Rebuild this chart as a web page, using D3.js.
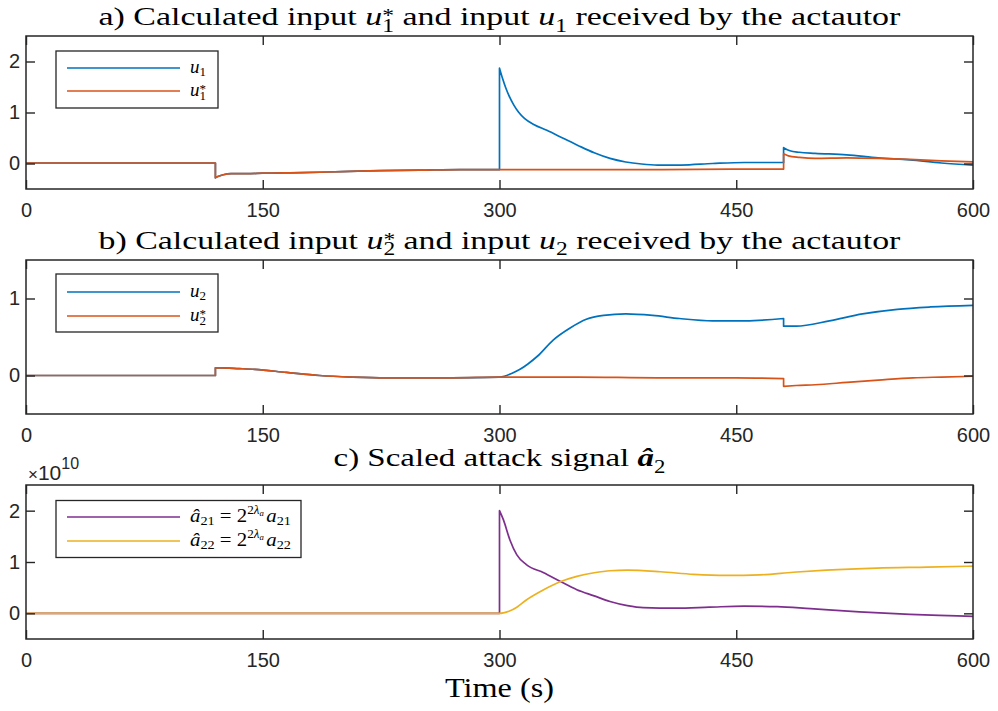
<!DOCTYPE html>
<html><head><meta charset="utf-8">
<script src="https://cdn.jsdelivr.net/npm/d3@7"></script>
<style>body{margin:0;background:#fff;} svg{display:block}</style>
</head><body>
<svg id="c" width="998" height="711"></svg>
<script>
// ---------------- data ----------------
const xTicks = [0, 150, 300, 450, 600];
const yTicksA = [0, 1, 2];
const yTicksB = [0, 1];
const yTicksC = [0, 1e10, 2e10];

// panel a: u1 (received) and u1* (calculated)
const u1T = [0, 60, 120, 120, 122, 125, 130, 140, 150, 175, 200, 225, 250, 275, 300, 300, 302, 304, 306, 309, 312, 316, 322, 330, 340, 350, 360, 370, 380, 390, 400, 415, 435, 455, 480, 480, 484, 490, 500, 520, 540, 560, 580, 600];
const u1V = [0.01, 0.01, 0.01, -0.28, -0.25, -0.22, -0.20, -0.20, -0.19, -0.18, -0.16, -0.14, -0.13, -0.12, -0.12, 1.87, 1.66, 1.48, 1.33, 1.15, 1.01, 0.88, 0.76, 0.65, 0.50, 0.35, 0.21, 0.10, 0.03, -0.01, -0.03, -0.03, 0.0, 0.02, 0.02, 0.31, 0.25, 0.22, 0.20, 0.17, 0.11, 0.07, 0.01, -0.03];
const u1sT = [0, 60, 120, 120, 122, 125, 130, 140, 150, 175, 200, 225, 250, 275, 300, 350, 400, 450, 480, 480, 483, 490, 500, 520, 540, 560, 580, 600];
const u1sV = [0.01, 0.01, 0.01, -0.28, -0.25, -0.22, -0.20, -0.20, -0.19, -0.18, -0.16, -0.14, -0.13, -0.12, -0.12, -0.12, -0.12, -0.11, -0.11, 0.19, 0.15, 0.12, 0.10, 0.11, 0.10, 0.08, 0.05, 0.03];

// panel b: u2 and u2*
const u2T = [0, 60, 120, 120, 123, 135, 145, 165, 186, 207, 228, 270, 300, 303, 308, 313, 318, 324, 334, 345, 355, 366, 380, 397, 414, 435, 456, 480, 480, 488, 509, 530, 552, 573, 600];
const u2V = [0, 0, 0, 0.10, 0.10, 0.09, 0.08, 0.04, 0.0, -0.02, -0.03, -0.03, -0.02, -0.01, 0.03, 0.08, 0.15, 0.25, 0.46, 0.62, 0.73, 0.78, 0.80, 0.78, 0.74, 0.71, 0.71, 0.74, 0.64, 0.64, 0.71, 0.80, 0.86, 0.89, 0.91];
const u2sT = [0, 60, 120, 120, 123, 135, 145, 165, 186, 207, 228, 270, 300, 350, 400, 450, 480, 480, 488, 500, 520, 540, 562, 580, 600];
const u2sV = [0, 0, 0, 0.10, 0.10, 0.09, 0.08, 0.04, 0.0, -0.02, -0.03, -0.03, -0.02, -0.02, -0.03, -0.03, -0.04, -0.14, -0.13, -0.12, -0.09, -0.06, -0.03, -0.02, -0.01];

// panel c: scaled attack signals
const a21T = [0, 150, 300, 300, 302.5, 306.6, 311, 317, 328, 338, 349, 360, 370, 381, 391, 412, 433, 455, 476, 497, 528, 560, 590, 600];
const a21V = [0, 0, 0, 2.0e10, 1.82e10, 1.43e10, 1.14e10, 0.95e10, 0.79e10, 0.63e10, 0.46e10, 0.34e10, 0.23e10, 0.15e10, 0.11e10, 0.10e10, 0.12e10, 0.14e10, 0.13e10, 0.09e10, 0.03e10, -0.02e10, -0.05e10, -0.06e10];
const a22T = [0, 150, 300, 302.5, 306, 311, 317, 328, 338, 349, 360, 370, 381, 402, 423, 444, 465, 486, 507, 539, 571, 600];
const a22V = [0, 0, 0, 0.01e10, 0.04e10, 0.12e10, 0.26e10, 0.46e10, 0.61e10, 0.72e10, 0.79e10, 0.83e10, 0.84e10, 0.81e10, 0.76e10, 0.74e10, 0.75e10, 0.80e10, 0.84e10, 0.88e10, 0.90e10, 0.92e10];

// ---------------- drawing ----------------
const SERIF = "'Liberation Serif', 'DejaVu Serif', serif";
const SANS = "'Liberation Sans', Arial, Helvetica, sans-serif";
const AX = '#262626';
const C_BLUE = '#0072BD', C_ORANGE = '#D95319', C_YELLOW = '#EDB120', C_PURPLE = '#7E2F8E';

const svg = d3.select('#c');
svg.append('rect').attr('width', 998).attr('height', 711).attr('fill', '#fff');

// one <text> per formula; each piece is a tspan placed explicitly
function mathText(parent, pieces, o) {
  const g = parent.append('g');
  const text = g.append('text').attr('fill', o.fill || '#000').attr('font-family', o.font || SERIF);
  let cx = 0, prevStart = 0;
  pieces.forEach(p => {
    const sx = p.stack ? prevStart : cx;
    const t = text.append('tspan')
      .attr('x', sx).attr('y', p.dy || 0)
      .attr('font-family', p.font || o.font || SERIF)
      .attr('font-size', p.size)
      .attr('font-style', p.italic ? 'italic' : 'normal')
      .attr('font-weight', p.bold ? 'bold' : 'normal')
      .text(p.s.replace(/ /g, '\u00A0'));
    const w = t.node().getComputedTextLength();
    if (p.stack) { cx = Math.max(cx, sx + w); }
    else { prevStart = sx; cx = sx + w; }
  });
  const W = cx;
  const k = o.width ? o.width / W : 1;
  const x0 = o.anchor === 'middle' ? o.x - W * k / 2 : o.x;
  g.attr('transform', `translate(${x0},${o.y}) scale(${k},1)`);
  return g;
}

function seriesPath(x, y, T, V) {
  const segs = []; let cur = [];
  T.forEach((t, i) => {
    if (i > 0 && t === T[i - 1]) { segs.push(cur); cur = []; }
    cur.push([t, V[i]]);
  });
  segs.push(cur);
  const line = d3.line().x(d => x(d[0])).y(d => y(d[1])).curve(d3.curveMonotoneX);
  return segs.map((s, i) => { const p = line(s); return i === 0 ? p : 'L' + p.slice(1); }).join('');
}

const X = d3.scaleLinear().domain([0, 600]).range([26, 973]);

const TS = 26, SS = 18;
const panels = [
  {
    top: 36, bottom: 189, ydom: [-0.5, 2.5], yticks: yTicksA, yfmt: d => d,
    series: [{ T: u1T, V: u1V, c: C_BLUE }, { T: u1sT, V: u1sV, c: C_ORANGE }],
    title: [{ s: 'a) Calculated input ', size: TS }, { s: 'u', size: TS, italic: true },
            { s: '*', size: SS, dy: -3 }, { s: '1', size: SS, dy: 6.5, stack: true },
            { s: ' and input ', size: TS }, { s: 'u', size: TS, italic: true }, { s: '1', size: SS, dy: 6.5 },
            { s: ' received by the actautor', size: TS }],
    titleY: 25, titleW: 802,
    legend: { x: 56, y: 51, w: 162, h: 57, rows: [68, 91], items: [
      { c: C_BLUE, t: [{ s: 'u', size: 19, italic: true }, { s: '1', size: 13, dy: 3.5 }] },
      { c: C_ORANGE, t: [{ s: 'u', size: 19, italic: true }, { s: '*', size: 13, dy: -3 }, { s: '1', size: 13, dy: 4.5, stack: true }] }
    ] }
  },
  {
    top: 260, bottom: 414, ydom: [-0.5, 1.5], yticks: yTicksB, yfmt: d => d,
    series: [{ T: u2T, V: u2V, c: C_BLUE }, { T: u2sT, V: u2sV, c: C_ORANGE }],
    title: [{ s: 'b) Calculated input ', size: TS }, { s: 'u', size: TS, italic: true },
            { s: '*', size: SS, dy: -3 }, { s: '2', size: SS, dy: 6.5, stack: true },
            { s: ' and input ', size: TS }, { s: 'u', size: TS, italic: true }, { s: '2', size: SS, dy: 6.5 },
            { s: ' received by the actautor', size: TS }],
    titleY: 248.5, titleW: 802,
    legend: { x: 56, y: 274, w: 162, h: 58, rows: [292, 316], items: [
      { c: C_BLUE, t: [{ s: 'u', size: 19, italic: true }, { s: '2', size: 13, dy: 3.5 }] },
      { c: C_ORANGE, t: [{ s: 'u', size: 19, italic: true }, { s: '*', size: 13, dy: -3 }, { s: '2', size: 13, dy: 4.5, stack: true }] }
    ] }
  },
  {
    top: 485, bottom: 639, ydom: [-0.5e10, 2.5e10], yticks: yTicksC, yfmt: d => d / 1e10,
    series: [{ T: a21T, V: a21V, c: C_PURPLE }, { T: a22T, V: a22V, c: C_YELLOW }],
    title: [{ s: 'c) Scaled attack signal ', size: TS }, { s: '\u00E2', size: TS, italic: true, bold: true },
            { s: '2', size: SS, dy: 6.5 }],
    titleY: 466, titleW: 332,
    legend: { x: 56, y: 500.5, w: 245, h: 57, rows: [517, 541], items: [
      { c: C_PURPLE, w: 101, t: [{ s: '\u00E2', size: 19, italic: true }, { s: '21', size: 13, dy: 3.5 }, { s: ' = 2', size: 19 },
        { s: '2', size: 12, dy: -8 }, { s: '\u03BB', size: 12, italic: true, dy: -8 }, { s: 'a', size: 8, italic: true, dy: -5.5 },
        { s: ' ', size: 9 }, { s: 'a', size: 19, italic: true }, { s: '21', size: 13, dy: 3.5 }] },
      { c: C_YELLOW, w: 101, t: [{ s: '\u00E2', size: 19, italic: true }, { s: '22', size: 13, dy: 3.5 }, { s: ' = 2', size: 19 },
        { s: '2', size: 12, dy: -8 }, { s: '\u03BB', size: 12, italic: true, dy: -8 }, { s: 'a', size: 8, italic: true, dy: -5.5 },
        { s: ' ', size: 9 }, { s: 'a', size: 19, italic: true }, { s: '22', size: 13, dy: 3.5 }] }
    ] }
  }
];

panels.forEach((P, pi) => {
  const Y = d3.scaleLinear().domain(P.ydom).range([P.bottom, P.top]);
  const g = svg.append('g');
  const cid = 'clip' + pi;
  svg.append('defs').append('clipPath').attr('id', cid).append('rect')
    .attr('x', X(0)).attr('y', P.top).attr('width', X(600) - X(0)).attr('height', P.bottom - P.top);

  const dg = g.append('g').attr('clip-path', `url(#${cid})`);
  P.series.forEach(s => {
    dg.append('path').attr('d', seriesPath(X, Y, s.T, s.V))
      .attr('fill', 'none').attr('stroke', s.c).attr('stroke-width', 1.7)
      .attr('stroke-linejoin', 'round');
  });

  const styleAxis = sel => {
    sel.select('.domain').remove();
    sel.attr('font-family', SANS).attr('font-size', 20).attr('color', AX);
    sel.selectAll('line').attr('stroke-width', 1.4);
    sel.selectAll('text').attr('fill', AX);
  };
  g.append('g').attr('transform', `translate(0,${P.bottom})`)
    .call(d3.axisBottom(X).tickValues(xTicks).tickSizeInner(-9).tickSizeOuter(0).tickPadding(14).tickFormat(d3.format('d')))
    .call(styleAxis);
  g.append('g').attr('transform', `translate(0,${P.top})`)
    .call(d3.axisTop(X).tickValues(xTicks).tickSizeInner(-9).tickSizeOuter(0).tickFormat(''))
    .call(styleAxis);
  g.append('g').attr('transform', `translate(${X(0)},0)`)
    .call(d3.axisLeft(Y).tickValues(P.yticks).tickSizeInner(-9).tickSizeOuter(0).tickPadding(6).tickFormat(P.yfmt))
    .call(styleAxis);
  g.append('g').attr('transform', `translate(${X(600)},0)`)
    .call(d3.axisRight(Y).tickValues(P.yticks).tickSizeInner(-9).tickSizeOuter(0).tickFormat(''))
    .call(styleAxis);
  g.append('rect').attr('x', X(0)).attr('y', P.top).attr('width', X(600) - X(0)).attr('height', P.bottom - P.top)
    .attr('fill', 'none').attr('stroke', AX).attr('stroke-width', 1.5);

  const L = P.legend;
  const lg = g.append('g');
  lg.append('rect').attr('x', L.x).attr('y', L.y).attr('width', L.w).attr('height', L.h)
    .attr('fill', '#fff').attr('stroke', AX).attr('stroke-width', 1.3);
  L.items.forEach((it, i) => {
    const yy = L.rows[i];
    lg.append('line').attr('x1', 67).attr('x2', 180).attr('y1', yy).attr('y2', yy)
      .attr('stroke', it.c).attr('stroke-width', 1.7);
    mathText(lg, it.t, { x: 190, y: yy + 4.5, anchor: 'start', width: it.w || null });
  });

  mathText(g, P.title, { x: (X(0) + X(600)) / 2, y: P.titleY, anchor: 'middle', width: P.titleW });
});

// exponent label for panel c
mathText(svg, [{ s: '\u00D7', size: 17 }, { s: '10', size: 21 }, { s: '10', size: 16, dy: -11 }],
  { x: 28, y: 480, anchor: 'start', fill: AX, font: SANS });

// x-axis label
mathText(svg, [{ s: 'Time (s)', size: 27 }], { x: (X(0) + X(600)) / 2, y: 697, anchor: 'middle', width: 109 });
</script>
</body></html>
